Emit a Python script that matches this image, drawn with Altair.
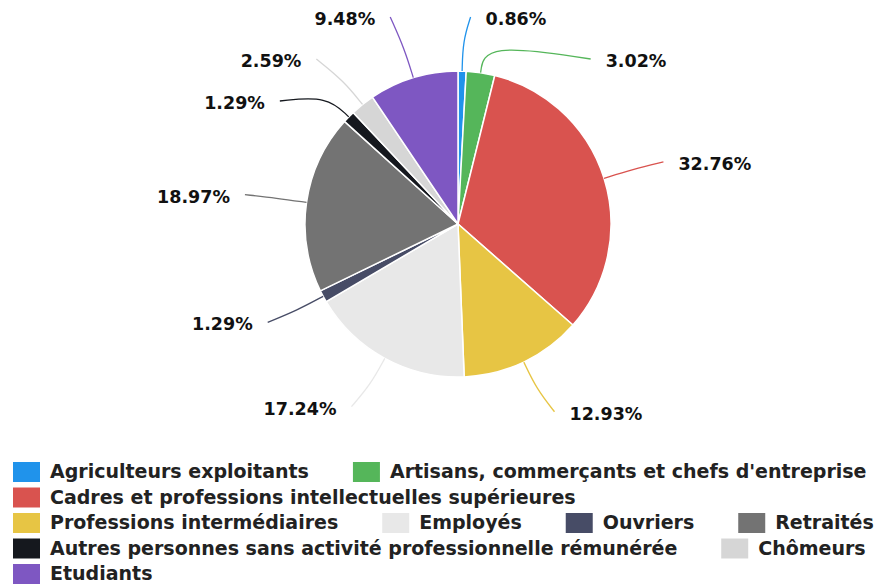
import math
import unicodedata
import altair as alt
import pandas as pd

# ---------------- data ----------------
categories = [
    "Agriculteurs exploitants",
    "Artisans, commerçants et chefs d'entreprise",
    "Cadres et professions intellectuelles supérieures",
    "Professions intermédiaires",
    "Employés",
    "Ouvriers",
    "Retraités",
    "Autres personnes sans activité professionnelle rémunérée",
    "Chômeurs",
    "Etudiants",
]
percents = [0.86, 3.02, 32.76, 12.93, 17.24, 1.29, 18.97, 1.29, 2.59, 9.48]
colors = ["#2093eb", "#55b65a", "#d9534f", "#e7c544", "#e8e8e8",
          "#474c66", "#737373", "#15181e", "#d6d6d6", "#7e57c2"]
labels = [f"{p:.2f}%" for p in percents]

# ---------------- layout (chart pixel space) ----------------
W, H = 876, 576
CX, CY = 450, 216          # pie centre
R = 153                    # pie radius
LEN1 = 30                  # first leader segment
R_LAB = 208                # label circle radius
LEN2 = 7                   # horizontal tail
TXT_GAP = 15
MIN_GAP = 42
TOP = 9
LABEL_FS = 17.5
LEG_FS = 19
FONT = "DejaVu Sans"

total = sum(percents)
items = []
cum = 0.0
for i, p in enumerate(percents):
    a = (cum + p / 2) / total * 2 * math.pi
    cum += p
    d = 1 if math.sin(a) >= 0 else -1
    p1x = CX + R_LAB * math.sin(a)
    y0 = CY - R_LAB * math.cos(a)
    items.append(dict(i=i, a=a, dir=d, y0=y0, y=y0, x1=p1x, x=p1x))


def spread(group):
    group.sort(key=lambda t: t["y0"])
    clusters = [[t] for t in group]

    def place(cl):
        m = sum(t["y0"] for t in cl) / len(cl)
        start = max(m - MIN_GAP * (len(cl) - 1) / 2, TOP)
        for k, t in enumerate(cl):
            t["y"] = start + k * MIN_GAP

    for cl in clusters:
        place(cl)
    while True:
        merged = False
        for j in range(len(clusters) - 1):
            if clusters[j + 1][0]["y"] - clusters[j][-1]["y"] < MIN_GAP - 1e-9:
                clusters[j] = clusters[j] + clusters[j + 1]
                del clusters[j + 1]
                place(clusters[j])
                merged = True
                break
        if not merged:
            break
    shifted = any(abs(t["y"] - t["y0"]) > 1e-6 for t in group)
    if shifted:
        for semi in ([t for t in group if t["y"] <= CY], [t for t in group if t["y"] > CY]):
            if not semi:
                continue
            far = max(semi, key=lambda t: abs(t["y"] - CY))
            dy = abs(far["y"] - CY)
            dx0 = abs(far["x1"] - CX)
            rB = dy / math.sqrt(1 - (dx0 / R_LAB) ** 2) if dx0 < R_LAB else R_LAB
            for t in semi:
                ddy = abs(t["y"] - CY)
                t["x"] = CX + t["dir"] * R_LAB * math.sqrt(max(0.0, 1 - (ddy / rB) ** 2))


spread([t for t in items if t["dir"] > 0])
spread([t for t in items if t["dir"] < 0])

line_rows, text_rows = [], []
for t in items:
    a, d, i = t["a"], t["dir"], t["i"]
    p2x = t["x"] + d * LEN2
    pts = [
        (CX + R * math.sin(a), CY - R * math.cos(a)),
        (CX + (R + LEN1) * math.sin(a), CY - (R + LEN1) * math.cos(a)),
        (p2x, t["y"]),
    ]
    for k, (px, py) in enumerate(pts):
        line_rows.append(dict(cat=categories[i], k=k, px=px, py=py))
    text_rows.append(dict(cat=categories[i], label=labels[i],
                          tx=p2x + d * TXT_GAP, ty=t["y"] + 3,
                          side="right" if d > 0 else "left"))

# ---- legend flow layout ----
EM = {
    " ": .348, ",": .38, ".": .38, "'": .33, "%": 1.002,
    "A": .774, "B": .762, "C": .733, "D": .83, "E": .683, "F": .683, "G": .821,
    "H": .837, "I": .372, "J": .372, "K": .776, "L": .65, "M": .995, "N": .837,
    "O": .85, "P": .734, "Q": .85, "R": .77, "S": .722, "T": .683, "U": .812,
    "V": .774, "W": 1.103, "X": .771, "Y": .724, "Z": .725,
    "a": .675, "b": .716, "c": .593, "d": .716, "e": .678, "f": .435, "g": .716,
    "h": .712, "i": .343, "j": .343, "k": .665, "l": .343, "m": 1.042, "n": .712,
    "o": .687, "p": .716, "q": .716, "r": .493, "s": .595, "t": .478, "u": .712,
    "v": .652, "w": .924, "x": .645, "y": .652, "z": .582,
}


def text_width(s, size):
    w = 0.0
    for ch in s:
        base = unicodedata.normalize("NFD", ch)[0]
        w += EM.get(ch, EM.get(base, 0.65))
    return w * size


SQ_W, SQ_H = 27, 20
SQ_TXT = 10
ITEM_GAP = 44
LEG_X0 = 5
LEG_Y0 = 464
ROW_H = 25.5
LEG_MAXX = W + 8

leg_rows = []
x, row = LEG_X0, 0
for i, c in enumerate(categories):
    w = SQ_W + SQ_TXT + text_width(c, LEG_FS)
    if x > LEG_X0 and x + w > LEG_MAXX:
        row += 1
        x = LEG_X0
    yc = LEG_Y0 + row * ROW_H
    leg_rows.append(dict(cat=c, x0=x, x1=x + SQ_W, y0=yc - SQ_H / 2, y1=yc + SQ_H / 2,
                         tx=x + SQ_W + SQ_TXT, ty=yc))
    x += w + ITEM_GAP

# ---------------- chart ----------------
sx = alt.Scale(domain=[0, W], range=[0, W])
sy = alt.Scale(domain=[0, H], range=[0, H])
col = alt.Color("cat:N", scale=alt.Scale(domain=categories, range=colors), legend=None)

pie_df = pd.DataFrame({"cat": categories, "value": percents, "idx": list(range(len(categories)))})
pie = alt.Chart(pie_df).mark_arc(radius=R, stroke="white", strokeWidth=1.5).encode(
    theta=alt.Theta("value:Q", stack=True),
    order=alt.Order("idx:Q"),
    color=col,
    x=alt.value(CX),
    y=alt.value(CY),
)

lines = alt.Chart(pd.DataFrame(line_rows)).mark_line(interpolate="basis", strokeWidth=1.3).encode(
    x=alt.X("px:Q", scale=sx, axis=None),
    y=alt.Y("py:Q", scale=sy, axis=None),
    color=col,
    order=alt.Order("k:Q"),
)

tdf = pd.DataFrame(text_rows)
txt_r = alt.Chart(tdf[tdf.side == "right"]).mark_text(
    align="left", baseline="middle", font=FONT, fontSize=LABEL_FS, fontWeight="bold", color="#111"
).encode(x=alt.X("tx:Q", scale=sx, axis=None), y=alt.Y("ty:Q", scale=sy, axis=None), text="label:N")
txt_l = alt.Chart(tdf[tdf.side == "left"]).mark_text(
    align="right", baseline="middle", font=FONT, fontSize=LABEL_FS, fontWeight="bold", color="#111"
).encode(x=alt.X("tx:Q", scale=sx, axis=None), y=alt.Y("ty:Q", scale=sy, axis=None), text="label:N")

ldf = pd.DataFrame(leg_rows)
leg_sq = alt.Chart(ldf).mark_rect().encode(
    x=alt.X("x0:Q", scale=sx, axis=None), x2="x1:Q",
    y=alt.Y("y0:Q", scale=sy, axis=None), y2="y1:Q",
    color=col,
)
leg_tx = alt.Chart(ldf).mark_text(
    align="left", baseline="middle", font=FONT, fontSize=LEG_FS, fontWeight="bold", color="#222"
).encode(x=alt.X("tx:Q", scale=sx, axis=None), y=alt.Y("ty:Q", scale=sy, axis=None), text="cat:N")

chart = alt.layer(pie, lines, txt_r, txt_l, leg_sq, leg_tx).properties(
    width=W, height=H, padding=0, autosize=alt.AutoSizeParams(type="none")
).configure_view(stroke=None)

chart.save("out.html", embed_options={"renderer": "svg", "actions": False})
